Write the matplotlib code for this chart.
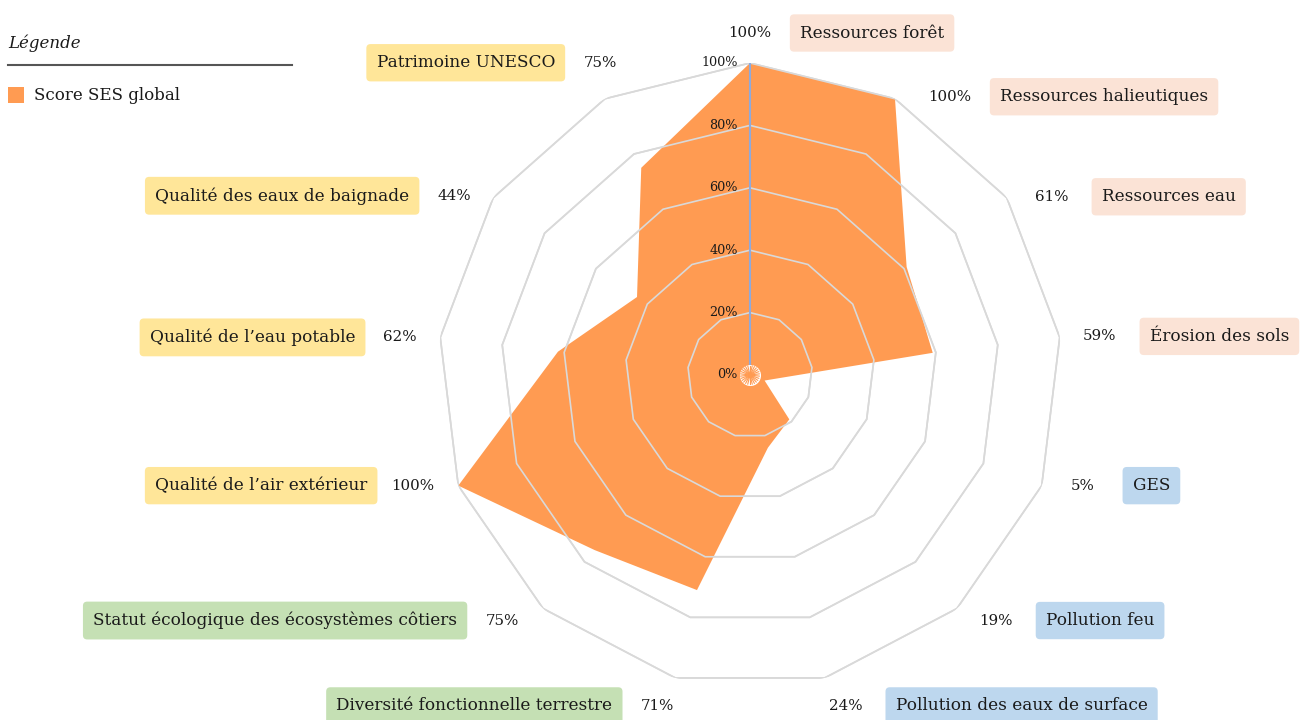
import numpy as np
import matplotlib
matplotlib.use("Agg")
import matplotlib.pyplot as plt
from matplotlib.patches import Rectangle
from matplotlib.lines import Line2D

plt.rcParams['font.family'] = ['DejaVu Serif']

# ---- data ----
categories = [
    "Ressources forêt", "Ressources halieutiques", "Ressources eau", "Érosion des sols",
    "GES", "Pollution feu", "Pollution des eaux de surface",
    "Diversité fonctionnelle terrestre", "Statut écologique des écosystèmes côtiers",
    "Qualité de l’air extérieur", "Qualité de l’eau potable",
    "Qualité des eaux de baignade", "Patrimoine UNESCO",
]
scores = [100, 100, 61, 59, 5, 19, 24, 71, 75, 100, 62, 44, 75]
groups = ["res", "res", "res", "res", "pol", "pol", "pol", "bio", "bio",
          "qual", "qual", "qual", "qual"]
rticks = [0, 20, 40, 60, 80, 100]
rtick_labels = ["0%", "20%", "40%", "60%", "80%", "100%"]
series_name = "Score SES global"

# ---- styles / layout ----
group_colors = {"res": "#FBE3D6", "pol": "#BDD7EE", "bio": "#C5E0B4", "qual": "#FFE699"}
fill_color = "#FF9B52"
grid_color = "#D9D9D9"
axis_color = "#8FAADC"
text_color = "#1A1A1A"
# pixel offsets of value labels from the 100% vertex of each axis
value_offsets = [(0, 30), (55, 2), (45, 1), (40, 1), (41, 0), (39, -12), (21, -28),
                 (-18, -28), (-41, -12), (-46, 0), (-40, 0), (-39, 2), (-5, 36)]

W, H, DPI = 1307, 720, 100
fig = plt.figure(figsize=(W / DPI, H / DPI), dpi=DPI)
cx, cy, R = 750, 375, 312
ax = fig.add_axes([(cx - R) / W, (H - cy - R) / H, 2 * R / W, 2 * R / H], projection="polar")
ax.set_theta_zero_location("N")
ax.set_theta_direction(-1)
ax.set_ylim(0, 100)
ax.grid(False)
ax.spines["polar"].set_visible(False)
ax.set_xticks([])
ax.set_yticks([])
ax.patch.set_alpha(0)

n = len(categories)
theta = np.arange(n) * 2 * np.pi / n
theta_c = np.append(theta, theta[0])

# polygonal grid
for r in rticks[1:]:
    ax.plot(theta_c, [r] * (n + 1), color=grid_color, lw=1.2, zorder=1)

# data polygon
vals = np.array(scores, dtype=float)
ax.fill(theta_c, np.append(vals, vals[0]), color=fill_color, lw=0, zorder=2)
for r in rticks[1:]:
    ax.plot(theta_c, [r] * (n + 1), color=grid_color, lw=1.2, zorder=3)

# radial axis line at top
ax.plot([0, 0], [0, 100], color=axis_color, lw=1.5, zorder=4)

# center ornament
ax.scatter([0], [0], s=230, color="white", zorder=5, lw=0)
for a in np.linspace(0, 2 * np.pi, 26, endpoint=False):
    ax.plot([a, a], [0, 3.0], color=fill_color, lw=0.8, zorder=6)
ax.scatter([0], [0], s=12, color=fill_color, zorder=7, lw=0)

# r tick labels
for r, lab in zip(rticks, rtick_labels):
    ax.annotate(lab, xy=(0, r), xytext=(-12, 0), textcoords="offset pixels",
                ha="right", va="center", fontsize=9.2, color=text_color,
                annotation_clip=False, zorder=8)

# category labels
for t, cat, sc, g, (dx, dy) in zip(theta, categories, scores, groups, value_offsets):
    ax.annotate(f"{sc}%", xy=(t, 100), xytext=(dx, dy), textcoords="offset pixels",
                ha="center", va="center", fontsize=10.8, color=text_color,
                annotation_clip=False)
    right = dx >= 0
    ax.annotate(cat, xy=(t, 100), xytext=(dx + (50 if right else -45), dy),
                textcoords="offset pixels", ha="left" if right else "right",
                va="center", fontsize=12.2, color=text_color, annotation_clip=False,
                bbox=dict(boxstyle="round,pad=0.6,rounding_size=0.25",
                          fc=group_colors[g], ec="none"))

# legend
fig.text(8 / W, 1 - 43 / H, "Légende", fontsize=12, style="italic", color=text_color,
         ha="left", va="center")
fig.add_artist(Line2D([8 / W, 292 / W], [1 - 65 / H, 1 - 65 / H], color="#555555", lw=1.5))
fig.add_artist(Rectangle((8 / W, 1 - 103 / H), 16 / W, 16 / H, color=fill_color, lw=0))
fig.text(34 / W, 1 - 95 / H, series_name, fontsize=12, color=text_color, ha="left", va="center")

fig.savefig("out.png", dpi=DPI, facecolor="white")
